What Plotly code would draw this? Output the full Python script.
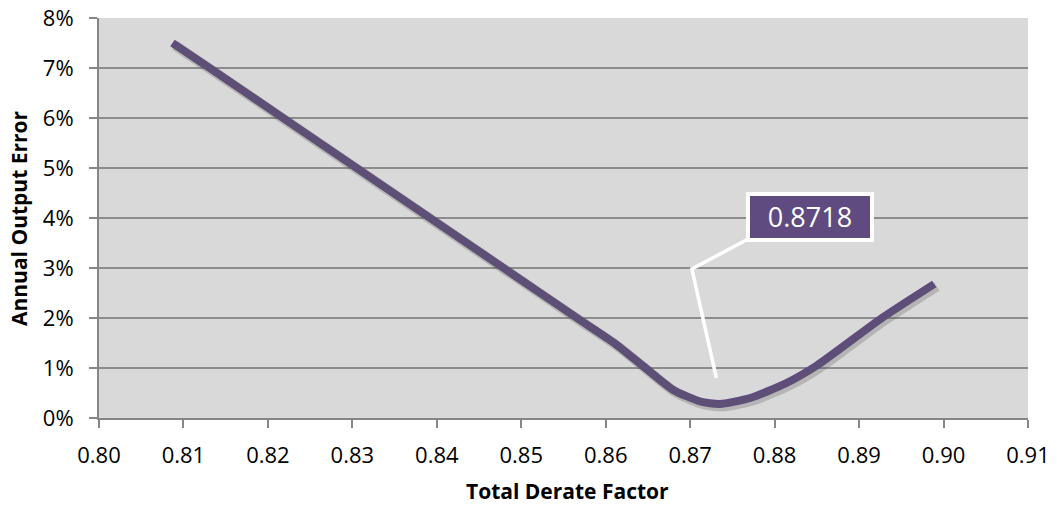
import plotly.graph_objects as go

# Data
derate_factor = [0.8087, 0.8131, 0.8218, 0.8305, 0.8392, 0.8479, 0.8566, 0.8610,
                 0.8644, 0.8680, 0.8712, 0.8735, 0.8771, 0.8814, 0.8850, 0.8927, 0.8989]
output_error = [0.0750, 0.0700, 0.0600, 0.0500, 0.0400, 0.0300, 0.0200, 0.0150,
                0.0104, 0.0056, 0.0033, 0.0028, 0.0040, 0.0070, 0.0105, 0.0200, 0.0268]
x_ticks = [0.80, 0.81, 0.82, 0.83, 0.84, 0.85, 0.86, 0.87, 0.88, 0.89, 0.90, 0.91]
y_ticks = [0.00, 0.01, 0.02, 0.03, 0.04, 0.05, 0.06, 0.07, 0.08]
label_text = "0.8718"
x_title = "Total Derate Factor"
y_title = "Annual Output Error"

PURPLE = "#5F4B80"
FONT = "Open Sans"

fig = go.Figure()

# soft shadow under the line (same data, drawn on an offset overlay axis)
fig.add_trace(go.Scatter(
    x=derate_factor, y=output_error, mode="lines",
    line=dict(color="rgba(90,90,90,0.28)", width=10, shape="spline", smoothing=0.6),
    xaxis="x2", yaxis="y2", hoverinfo="skip", showlegend=False))

fig.add_trace(go.Scatter(
    x=derate_factor, y=output_error, mode="lines",
    line=dict(color=PURPLE, width=8, shape="spline", smoothing=0.6),
    showlegend=False))

grid_col = "#8C8C8C"
axis_col = "#868686"

fig.update_layout(
    width=1057, height=506,
    margin=dict(l=99, r=29, t=18, b=88),
    paper_bgcolor="white", plot_bgcolor="#D9D9D9",
    font=dict(family=FONT, size=22, color="black"),
    xaxis=dict(range=[0.80, 0.91], tickvals=x_ticks, tickformat=".2f",
               showgrid=False, zeroline=False, automargin=False,
               showline=True, linecolor=axis_col, linewidth=2,
               ticks="outside", ticklen=8, tickwidth=2, tickcolor=axis_col,
               ticklabelstandoff=9, ticklabeloverflow="allow",
               tickfont=dict(family=FONT, size=22)),
    yaxis=dict(range=[0, 0.08], tickvals=y_ticks, tickformat=".0%",
               showgrid=True, gridcolor=grid_col, gridwidth=1.5, zeroline=False,
               automargin=False,
               showline=True, linecolor=axis_col, linewidth=2,
               ticks="outside", ticklen=8, tickwidth=2, tickcolor=axis_col,
               ticklabelstandoff=11, ticklabeloverflow="allow",
               tickfont=dict(family=FONT, size=22)),
    xaxis2=dict(range=[0.80 - 0.0003, 0.91 - 0.0003], overlaying="x",
                visible=False, fixedrange=True, automargin=False),
    yaxis2=dict(range=[0.0005, 0.0805], overlaying="y",
                visible=False, fixedrange=True, automargin=False),
)

# axis titles
fig.add_annotation(text="<b>" + x_title + "</b>", xref="paper", yref="paper",
                   x=0.5, y=0, xanchor="center", yanchor="middle",
                   xshift=4, yshift=-73, showarrow=False,
                   font=dict(family=FONT, size=21, color="black"))
fig.add_annotation(text="<b>" + y_title + "</b>", xref="paper", yref="paper",
                   x=0, y=0.5, xanchor="center", yanchor="middle", textangle=-90,
                   xshift=-80, showarrow=False,
                   font=dict(family=FONT, size=21, color="black"))

# leader line of the data label
fig.add_shape(type="path",
              path="M 0.8731 0.0080 L 0.8702 0.0298 L 0.8771 0.0360",
              xref="x", yref="y",
              line=dict(color="white", width=3.5), layer="above")

# data label box
fig.add_annotation(
    x=0.8842, y=0.0402, xref="x", yref="y",
    text=label_text, showarrow=False,
    font=dict(family=FONT, size=27, color="white"),
    bgcolor=PURPLE, bordercolor="white", borderwidth=4, borderpad=3,
    width=114, height=36, valign="bottom")

fig.write_html("out.html",
               config={"displayModeBar": False},
               post_script="document.body.style.margin='0';")
